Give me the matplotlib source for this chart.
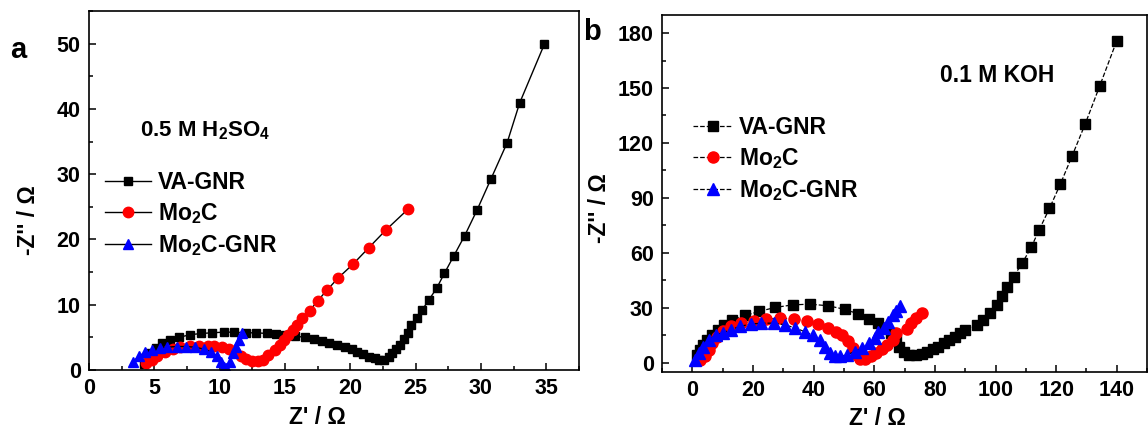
import matplotlib
matplotlib.use('Agg')
import matplotlib.pyplot as plt
from matplotlib.ticker import MultipleLocator

plt.rcParams['font.family'] = ['Liberation Sans', 'DejaVu Sans']
plt.rcParams['font.weight'] = 'bold'
plt.rcParams['mathtext.fontset'] = 'custom'
plt.rcParams['mathtext.rm'] = 'Liberation Sans:bold'
plt.rcParams['mathtext.it'] = 'Liberation Sans:bold'
plt.rcParams['mathtext.bf'] = 'Liberation Sans:bold'

# ---- 0.5 M H2SO4 ----
a_va_x = [4.2, 4.7, 5.1, 5.6, 6.2, 6.9, 7.7, 8.6, 9.4, 10.3, 11.1, 12.0, 12.8, 13.6, 14.3,
          15.0, 15.8, 16.5, 17.2, 17.8, 18.4, 19.0, 19.6, 20.1, 20.5, 21.0, 21.45, 21.9, 22.2,
          22.6, 22.95, 23.2, 23.5, 23.8, 24.1, 24.4, 24.65, 25.1, 25.5, 26.0, 26.6, 27.2, 27.9,
          28.76, 29.7, 30.75, 32.0, 32.96, 34.85]
a_va_y = [0.9, 2.6, 3.3, 4.1, 4.6, 5.0, 5.4, 5.6, 5.7, 5.8, 5.8, 5.7, 5.7, 5.6, 5.5,
          5.4, 5.2, 5.0, 4.7, 4.5, 4.2, 3.9, 3.6, 3.2, 2.8, 2.5, 2.0, 1.8, 1.5,
          1.6, 2.0, 2.6, 3.2, 3.8, 4.7, 5.6, 6.9, 7.9, 9.2, 10.7, 12.5, 14.8, 17.4,
          20.6, 24.5, 29.2, 34.8, 40.9, 49.9]

a_mo_x = [4.4, 4.8, 5.2, 5.8, 6.4, 7.0, 7.7, 8.4, 9.1, 9.6, 10.2, 10.7, 11.2, 11.6, 12.0,
          12.5, 12.9, 13.3, 13.7, 14.2, 14.6, 14.9, 15.2, 15.6, 15.9, 16.3, 16.9, 17.5, 18.2,
          19.07, 20.2, 21.4, 22.75, 24.45]
a_mo_y = [1.0, 1.5, 2.2, 2.7, 3.2, 3.5, 3.7, 3.75, 3.75, 3.7, 3.5, 3.2, 2.7, 2.1, 1.7,
          1.4, 1.4, 1.6, 2.3, 3.1, 3.8, 4.6, 5.4, 6.1, 6.9, 8.0, 9.1, 10.6, 12.2,
          14.1, 16.2, 18.7, 21.5, 24.7]

a_mg_x = [3.4, 3.8, 4.3, 4.8, 5.4, 6.0, 6.7, 7.4, 8.1, 8.8, 9.35, 9.8, 10.1, 10.35, 10.5,
          10.8, 11.0, 11.25, 11.5, 11.75]
a_mg_y = [1.3, 2.1, 2.7, 3.1, 3.3, 3.5, 3.6, 3.6, 3.5, 3.2, 2.8, 2.1, 1.3, 0.5, 0.3,
          1.3, 2.6, 3.6, 4.6, 5.6]

# ---- 0.1 M KOH ----
b_va_x = [1.4, 2.4, 3.4, 4.8, 6.4, 8.4, 10.5, 13.2, 17.4, 22.0, 27.3, 33.1, 38.8, 44.8,
          50.2, 54.7, 58.3, 61.1, 63.7, 65.5, 67.1, 68.3, 69.7, 71.5, 73.9, 75.7, 77.5,
          79.3, 81.1, 82.9, 84.7, 86.5, 88.3, 90.1, 93.75, 95.9, 98.1, 100.6, 102.2, 103.7,
          106.0, 108.8, 111.8, 114.4, 117.8, 121.4, 125.2, 129.6, 134.4, 140.0]
b_va_y = [4.2, 6.9, 9.7, 12.4, 15.1, 17.9, 20.6, 23.3, 25.7, 27.9, 30.1, 31.5, 31.9, 31.0,
          29.1, 26.6, 23.7, 21.5, 18.8, 16.0, 12.4, 8.7, 5.5, 4.2, 4.2, 4.7, 6.0,
          7.3, 8.7, 10.6, 12.4, 14.2, 16.0, 17.9, 20.6, 23.0, 27.0, 31.2, 36.1, 41.2,
          47.0, 54.3, 63.0, 72.5, 84.2, 97.5, 112.6, 130.4, 151.2, 175.8]

b_mo_x = [2.4, 4.2, 5.4, 6.6, 8.2, 10.2, 12.6, 16.2, 20.2, 24.4, 28.8, 33.4, 37.9, 41.5,
          44.8, 47.5, 49.5, 51.3, 52.9, 54.3, 55.3, 57.1, 58.9, 60.7, 62.5, 64.3, 66.1,
          67.3, 70.7, 72.1, 73.9, 75.7]
b_mo_y = [1.5, 3.3, 6.9, 10.6, 14.2, 17.3, 19.7, 21.5, 22.8, 23.7, 24.2, 23.9, 22.8, 21.1,
          18.8, 16.9, 14.8, 11.5, 7.8, 4.2, 1.8, 1.8, 3.3, 5.1, 7.3, 9.7, 12.4,
          16.0, 18.2, 21.5, 24.2, 27.3]

b_mg_x = [1.0, 2.2, 3.6, 5.4, 7.8, 10.2, 12.6, 15.6, 19.2, 22.8, 27.0, 30.6, 34.0, 37.0,
          39.7, 42.1, 43.9, 45.4, 46.9, 48.7, 51.1, 53.5, 55.9, 58.3, 60.1, 61.3, 63.1,
          64.7, 66.1, 67.3, 68.5]
b_mg_y = [1.5, 5.1, 8.7, 12.4, 15.1, 16.4, 17.9, 19.7, 21.0, 21.5, 21.5, 20.6, 18.8, 16.9,
          15.1, 12.4, 8.7, 5.1, 3.6, 3.3, 4.2, 6.0, 7.8, 10.6, 13.3, 16.9, 18.8,
          22.4, 26.1, 27.9, 31.0]

labels = ['VA-GNR', 'Mo$_2$C', 'Mo$_2$C-GNR']

fig = plt.figure(figsize=(11.48, 4.29), dpi=100)
ax1 = fig.add_axes([0.0775, 0.1375, 0.4268, 0.8368])
ax2 = fig.add_axes([0.5767, 0.1336, 0.4225, 0.832])


def style(ax):
    for s in ax.spines.values():
        s.set_linewidth(1.2)
    ax.tick_params(which='both', direction='in', top=False, right=False,
                   labelsize=15.5, width=1.1, pad=6)
    ax.tick_params(which='major', length=5)
    ax.tick_params(which='minor', length=3)
    for t in ax.get_xticklabels() + ax.get_yticklabels():
        t.set_fontweight('bold')


# panel a
ax1.plot(a_va_x, a_va_y, '-', color='k', lw=1, marker='s', ms=6, mfc='k', mec='k', label=labels[0])
ax1.plot(a_mo_x, a_mo_y, '-', color='k', lw=1, marker='o', ms=7.5, mfc='red', mec='red', label=labels[1])
ax1.plot(a_mg_x, a_mg_y, '-', color='k', lw=1, marker='^', ms=7.5, mfc='blue', mec='blue', label=labels[2])
ax1.set_xlim(0, 37.5)
ax1.set_ylim(0, 55)
ax1.xaxis.set_major_locator(MultipleLocator(5))
ax1.xaxis.set_minor_locator(MultipleLocator(2.5))
ax1.yaxis.set_major_locator(MultipleLocator(10))
ax1.yaxis.set_minor_locator(MultipleLocator(5))
style(ax1)
ax1.set_xlabel("Z' / Ω", fontsize=16.5, fontweight='bold')
ax1.set_ylabel("-Z'' / Ω", fontsize=16.5, fontweight='bold')
ax1.xaxis.set_label_coords(0.467, -0.10)
ax1.yaxis.set_label_coords(-0.10, 0.418)
ax1.text(0.104, 0.668, '0.5 M H$_2$SO$_4$', transform=ax1.transAxes,
         fontsize=16, fontweight='bold', va='center')
ax1.legend(loc='upper left', bbox_to_anchor=(0.015, 0.58), frameon=False,
           prop={'size': 16.5, 'weight': 'bold'}, handlelength=2.0, handletextpad=0.3,
           labelspacing=0.3, borderaxespad=0)

# panel b
ax2.plot(b_va_x, b_va_y, '--', color='k', lw=0.9, marker='s', ms=6.5, mfc='k', mec='k', label=labels[0])
ax2.plot(b_mo_x, b_mo_y, '--', color='k', lw=0.9, marker='o', ms=8, mfc='red', mec='red', label=labels[1])
ax2.plot(b_mg_x, b_mg_y, '--', color='k', lw=0.9, marker='^', ms=8, mfc='blue', mec='blue', label=labels[2])
ax2.set_xlim(-10, 150)
ax2.set_ylim(-5, 190)
ax2.xaxis.set_major_locator(MultipleLocator(20))
ax2.xaxis.set_minor_locator(MultipleLocator(10))
ax2.yaxis.set_major_locator(MultipleLocator(30))
ax2.yaxis.set_minor_locator(MultipleLocator(15))
style(ax2)
ax2.set_xlabel("Z' / Ω", fontsize=16.5, fontweight='bold')
ax2.set_ylabel("-Z'' / Ω", fontsize=16.5, fontweight='bold')
ax2.xaxis.set_label_coords(0.443, -0.10)
ax2.yaxis.set_label_coords(-0.105, 0.458)
ax2.text(0.573, 0.831, '0.1 M KOH', transform=ax2.transAxes,
         fontsize=16.5, fontweight='bold', va='center')
ax2.legend(loc='upper left', bbox_to_anchor=(0.045, 0.742), frameon=False,
           prop={'size': 16.5, 'weight': 'bold'}, handlelength=1.7, handletextpad=0.3,
           labelspacing=0.3, borderaxespad=0)

fig.text(0.009, 0.883, 'a', fontsize=21, fontweight='bold', va='center')
fig.text(0.508, 0.925, 'b', fontsize=21, fontweight='bold', va='center')

fig.savefig('out.png', dpi=100)
